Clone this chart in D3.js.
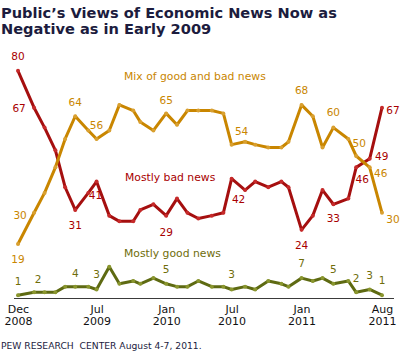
<!DOCTYPE html>
<html><head><meta charset="utf-8">
<script src="https://cdn.jsdelivr.net/npm/d3@7"></script>
<style>
html,body{margin:0;padding:0;background:#fff;}
svg{display:block;}
text{font-family:"DejaVu Sans",Verdana,sans-serif;}
</style></head>
<body>
<script>
// ---- data ----
const dates = ["2008-12-01","2009-01-13","2009-02-10","2009-03-11","2009-04-06","2009-05-03","2009-06-07","2009-06-29",
 "2009-08-02","2009-08-29","2009-10-05","2009-10-24","2009-11-28","2010-01-01","2010-01-30","2010-02-27","2010-03-28",
 "2010-05-03","2010-06-03","2010-06-25","2010-07-31","2010-08-27","2010-10-01","2010-11-05","2010-11-24","2010-12-29",
 "2011-01-28","2011-02-23","2011-03-24","2011-05-03","2011-05-24","2011-06-29","2011-08-01"];
const mostlyBad  = [80,67,60,52,39,31,37,41,29,27,27,31,33,29,35,30,28,29,30,42,38,41,39,41,39,24,29,38,33,35,46,49,67];
const mixed      = [19,30,37,46,56,64,59,56,59,68,66,62,59,65,61,66,66,66,65,54,55,54,53,53,55,68,64,53,60,56,50,46,30];
const mostlyGood = [1,2,2,2,4,4,4,3,11,5,6,5,7,5,4,4,6,4,4,3,4,3,6,5,4,7,6,7,5,6,2,3,1];
const tickIndex  = [0,7,13,19,25,32];
const tickLabels = [["Dec","2008"],["Jul","2009"],["Jan","2010"],["Jul","2010"],["Jan","2011"],["Aug","2011"]];
const seriesNames = ["Mostly bad news","Mix of good and bad news","Mostly good news"];

// ---- layout ----
const W = 404, H = 355;
const parse = d3.timeParse("%Y-%m-%d");
const dts = dates.map(parse);
const x = d3.scaleTime().domain([dts[0], dts[dts.length-1]]).range([18, 382]);
const y = d3.scaleLinear().domain([0, 80]).range([298, 70.8]);

const svg = d3.select("body").append("svg").attr("width", W).attr("height", H);

// title
const title = svg.append("text").attr("x", 1).attr("y", 17.5)
  .attr("font-weight", "bold").attr("font-size", 14.6).attr("fill", "#1c1c3e");
title.append("tspan").attr("x", 1).text("Public\u2019s Views of Economic News Now as");
title.append("tspan").attr("x", 1).attr("dy", 16.5).text("Negative as in Early 2009");

// axis baseline
const xAxis = d3.axisBottom(x).tickValues(tickIndex.map(i => dts[i])).tickSize(0).tickFormat("");
const ax = svg.append("g").attr("transform", "translate(0,298)").call(xAxis);
ax.select(".domain").remove();
svg.append("line").attr("x1", 14).attr("x2", 394).attr("y1", 298.5).attr("y2", 298.5)
  .attr("stroke", "#3a3a3a").attr("stroke-width", 1);
ax.selectAll(".tick").each(function(d, k) {
  const g = d3.select(this);
  g.append("text").attr("y", 14.5).attr("text-anchor", "middle").attr("font-size", 11)
    .attr("fill", "#111").text(tickLabels[k][0]);
  g.append("text").attr("y", 27).attr("text-anchor", "middle").attr("font-size", 11)
    .attr("fill", "#111").text(tickLabels[k][1]);
});

const series = [
  {name: seriesNames[2], vals: mostlyGood, line: "#5e6a12", dot: "#8a962e", lab: "#6f6d0a",
   labels: [[0,0,-10],[1,4,-9],[5,0,-10],[7,0,-11],[13,0,-11],[19,0,-11],[25,0,-11],[28,0,-11],[30,0,-10],[31,0,-10],[32,0,-11]],
   name_xy: [124, 256.5]},
  {name: seriesNames[0], vals: mostlyBad, line: "#a50f0f", dot: "#c62a2a", lab: "#a80000",
   labels: [[0,0,-11],[1,-15,4],[5,0,19],[7,-1,17],[13,0,20],[19,7,24],[25,0,19],[28,0,18],[30,6,16],[31,12,1],[32,11,6]],
   name_xy: [125, 181]},
  {name: seriesNames[1], vals: mixed, line: "#c98600", dot: "#d9a030", lab: "#c98600",
   labels: [[0,0,19],[1,-14,6],[5,0,-10],[7,0,-10],[13,0,-9.5],[19,10,-10],[25,0,-11],[28,0,-12],[30,3,-9],[31,11,10],[32,11,10]],
   name_xy: [124, 79.5]}
];

const line = d3.line().x((d, i) => x(dts[i])).y(d => y(d));

series.forEach(s => {
  svg.append("path").datum(s.vals).attr("d", line).attr("fill", "none")
    .attr("stroke", s.line).attr("stroke-width", 3).attr("stroke-linejoin", "round");
  svg.append("g").selectAll("circle").data(s.vals).join("circle")
    .attr("cx", (d, i) => x(dts[i])).attr("cy", d => y(d)).attr("r", 2)
    .attr("fill", s.dot);
});

series.forEach(s => {
  svg.append("g").selectAll("text").data(s.labels).join("text")
    .attr("x", d => x(dts[d[0]]) + d[1]).attr("y", d => y(s.vals[d[0]]) + d[2])
    .attr("text-anchor", "middle").attr("font-size", 10.5).attr("fill", s.lab)
    .text(d => s.vals[d[0]]);
  svg.append("text").attr("x", s.name_xy[0]).attr("y", s.name_xy[1])
    .attr("font-size", 10.8).attr("fill", s.lab).text(s.name);
});

// footer
svg.append("text").attr("x", 1).attr("y", 348.5).attr("font-size", 9.2).attr("fill", "#1c1c3e")
  .attr("xml:space", "preserve").style("white-space", "pre")
  .text("PEW RESEARCH  CENTER August 4-7, 2011.");
</script>
</body></html>
